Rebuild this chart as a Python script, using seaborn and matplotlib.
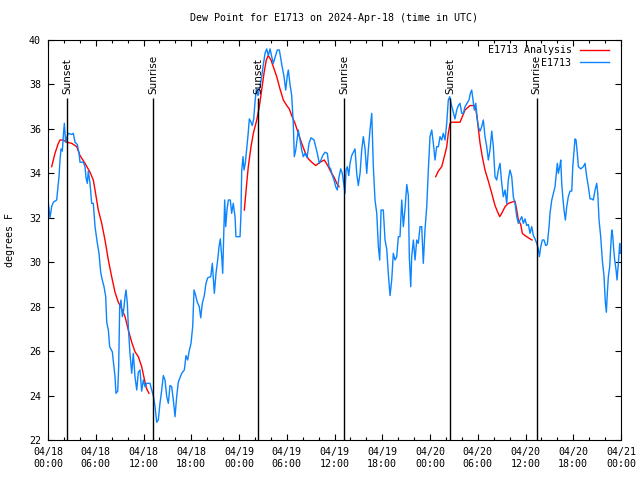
import matplotlib
matplotlib.use("Agg")
import matplotlib.pyplot as plt
import matplotlib.ticker as mticker
import numpy as np
import pandas as pd
import seaborn as sns

# ---------------- data ----------------
title = "Dew Point for E1713 on 2024-Apr-18 (time in UTC)"
ylabel = "degrees F"
station_label = "E1713"
analysis_label = "E1713 Analysis"

# hours since 04/18 00:00 UTC
obs_hours = [0.00, 0.25, 0.46, 0.67, 1.09, 1.22, 1.38, 1.51, 1.63, 1.80, 1.92, 2.05, 2.22, 2.39, 2.55, 2.98, 3.18, 3.39, 3.68, 3.90,
             4.02, 4.44, 4.65, 4.78, 4.94, 5.06, 5.28, 5.49, 5.69, 5.91, 6.20, 6.41, 6.62, 6.82, 7.04, 7.25, 7.38, 7.58, 7.75, 8.08,
             8.29, 8.42, 8.54, 8.76, 8.88, 9.01, 9.17, 9.34, 9.51, 9.68, 9.80, 9.97, 10.09, 10.30, 10.52, 10.72, 10.93, 11.15, 11.35, 11.56,
             11.77, 11.98, 12.19, 12.40, 12.82, 13.03, 13.23, 13.45, 13.66, 13.86, 14.07, 14.29, 14.49, 14.70, 14.92, 15.12, 15.33, 15.54, 15.75, 15.96,
             16.17, 16.37, 16.80, 17.13, 17.34, 17.55, 17.72, 17.97, 18.18, 18.35, 18.56, 18.76, 19.01, 19.19, 19.39, 19.64, 19.85, 20.07, 20.45, 20.65,
             20.90, 21.11, 21.32, 21.49, 21.65, 21.83, 21.95, 22.08, 22.20, 22.33, 22.49, 22.66, 22.91, 23.08, 23.28, 23.50, 23.62, 24.13, 24.25, 24.34,
             24.50, 24.63, 24.79, 24.97, 25.13, 25.30, 25.51, 25.67, 25.85, 26.01, 26.18, 26.39, 26.64, 26.85, 27.06, 27.27, 27.48, 27.68, 27.90, 28.11,
             28.31, 28.52, 28.81, 29.07, 29.37, 29.66, 29.87, 30.07, 30.20, 30.41, 30.62, 30.82, 30.95, 31.13, 31.29, 31.45, 31.67, 31.88, 32.08, 32.30,
             32.55, 32.80, 33.05, 33.43, 33.64, 33.84, 34.09, 34.31, 34.52, 34.81, 35.10, 35.31, 35.52, 35.73, 35.94, 36.15, 36.35, 36.57, 36.78, 36.98,
             37.16, 37.32, 37.45, 37.61, 37.79, 37.95, 38.16, 38.37, 38.58, 38.79, 38.99, 39.21, 39.42, 39.62, 39.84, 40.05, 40.25, 40.46, 40.68, 40.88,
             41.09, 41.31, 41.51, 41.68, 41.85, 42.13, 42.35, 42.56, 42.76, 42.98, 43.19, 43.39, 43.60, 43.82, 44.02, 44.23, 44.45, 44.65, 44.86, 45.08,
             45.28, 45.40, 45.58, 45.70, 45.91, 46.12, 46.33, 46.53, 46.75, 46.96, 47.16, 47.37, 47.59, 47.79, 48.00, 48.22, 48.42, 48.63, 48.84, 49.05,
             49.26, 49.47, 49.67, 49.89, 50.10, 50.30, 50.48, 50.64, 50.86, 51.14, 51.36, 51.56, 51.77, 51.99, 52.19, 52.40, 52.65, 52.90, 53.07, 53.24,
             53.41, 53.57, 53.75, 53.91, 54.07, 54.29, 54.50, 54.70, 54.91, 55.13, 55.33, 55.54, 55.76, 55.96, 56.17, 56.38, 56.59, 56.80, 57.01, 57.21,
             57.43, 57.64, 57.84, 58.05, 58.27, 58.47, 58.68, 58.90, 59.10, 59.31, 59.53, 59.73, 59.94, 60.15, 60.36, 60.57, 60.78, 60.99, 61.20, 61.41,
             61.61, 61.74, 61.92, 62.12, 62.33, 62.54, 62.74, 62.96, 63.08, 63.30, 63.50, 63.71, 63.84, 64.00, 64.13, 64.30, 64.43, 64.55, 64.68, 64.84,
             65.01, 65.18, 65.38, 65.60, 65.81, 65.94, 66.10, 66.22, 66.35, 66.51, 66.64, 66.94, 67.27, 67.48, 67.69, 67.90, 68.11, 68.32, 68.52, 68.74,
             68.95, 69.08, 69.24, 69.45, 69.65, 69.87, 70.03, 70.16, 70.28, 70.41, 70.58, 70.71, 70.84, 70.96, 71.09, 71.21, 71.38, 71.50, 71.67, 71.84,
             71.92]
obs_dewpt = [32.8, 32.0, 32.5, 32.7, 32.8, 33.25, 33.85, 34.6, 35.1, 35.0, 35.65, 36.25, 35.4, 35.65, 35.8, 35.75, 35.8, 35.4, 35.3, 34.9,
             34.5, 34.5, 34.3, 33.8, 33.55, 34.1, 33.55, 32.65, 32.65, 31.6, 30.85, 30.4, 29.55, 29.2, 28.9, 28.45, 27.3, 26.95, 26.2, 25.97,
             25.3, 24.85, 24.1, 24.2, 25.3, 28.0, 28.3, 27.55, 27.85, 28.45, 28.75, 28.15, 27.1, 25.9, 25.0, 25.9, 24.85, 24.25, 25.05, 25.15,
             24.2, 24.7, 24.4, 24.55, 24.55, 24.25, 24.0, 23.5, 22.8, 22.9, 23.65, 24.25, 24.9, 24.7, 23.95, 23.65, 24.45, 24.4, 23.8, 23.05,
             23.95, 24.6, 25.0, 25.15, 25.8, 25.6, 25.97, 26.35, 27.1, 28.75, 28.5, 28.2, 28.0, 27.5, 28.15, 28.5, 29.05, 29.3, 29.35, 29.95,
             28.6, 29.5, 30.1, 30.7, 31.05, 30.25, 29.5, 31.3, 32.8, 31.6, 32.35, 32.8, 32.8, 32.2, 32.65, 32.05, 31.15, 31.15, 32.2, 34.1,
             34.75, 34.15, 34.45, 35.1, 35.7, 36.45, 36.3, 36.15, 36.45, 37.2, 37.8, 37.5, 37.9, 38.35, 38.9, 39.4, 39.6, 39.3, 39.6, 39.25,
             38.95, 39.2, 39.55, 39.55, 38.9, 38.35, 37.75, 38.4, 38.65, 38.0, 37.5, 36.25, 34.75, 35.05, 35.5, 35.95, 35.5, 35.05, 34.75, 34.9,
             34.7, 35.35, 35.6, 35.5, 35.2, 34.9, 34.45, 34.6, 34.8, 34.95, 34.9, 34.3, 34.2, 33.9, 33.7, 33.4, 33.25, 33.85, 34.2, 34.0,
             33.55, 33.1, 34.15, 34.3, 33.9, 34.45, 34.8, 34.95, 35.1, 34.0, 33.45, 34.0, 35.05, 35.65, 35.1, 34.0, 35.05, 35.95, 36.7, 34.3,
             32.8, 32.2, 30.7, 30.1, 32.35, 32.35, 31.0, 30.6, 29.5, 28.5, 29.2, 30.4, 30.1, 30.25, 31.15, 31.15, 32.8, 31.6, 32.4, 33.5,
             33.0, 30.25, 28.9, 30.25, 31.0, 30.1, 31.0, 30.85, 31.6, 31.6, 29.95, 31.45, 32.5, 34.15, 35.65, 35.95, 35.35, 34.6, 35.2, 35.2,
             35.65, 35.5, 35.8, 35.5, 36.25, 37.3, 37.45, 37.15, 36.85, 36.45, 36.85, 37.05, 37.15, 36.7, 36.7, 37.0, 37.15, 37.3, 37.6, 37.75,
             37.3, 36.85, 37.15, 36.55, 36.1, 35.9, 36.1, 36.4, 35.65, 35.2, 34.6, 35.05, 35.9, 35.2, 33.85, 33.7, 34.15, 34.45, 33.55, 32.95,
             33.25, 32.65, 33.7, 34.15, 33.85, 32.95, 32.65, 32.05, 31.75, 31.9, 32.05, 31.75, 31.95, 31.65, 31.7, 31.3, 31.6, 31.2, 31.05, 30.85,
             30.6, 30.25, 30.7, 31.0, 31.0, 30.75, 30.8, 31.6, 32.2, 32.8, 33.1, 33.4, 33.85, 34.45, 34.0, 34.3, 34.6, 33.55, 32.95, 32.35,
             31.9, 32.5, 32.95, 33.2, 33.2, 34.3, 35.05, 35.55, 35.5, 34.9, 34.3, 34.2, 34.3, 34.45, 33.85, 33.4, 32.85, 32.85, 32.8, 33.25,
             33.55, 33.1, 31.9, 31.15, 30.1, 29.35, 28.2, 27.75, 28.6, 29.35, 29.8, 30.7, 31.45, 31.2, 30.55, 30.1, 29.65, 29.2, 29.95, 30.85,
             30.4]

# analysis curve: three separate pieces (segment id per point)
ana_hours = [0.46, 0.88, 1.29, 1.51, 1.92, 2.35, 2.98, 3.61, 4.02, 4.65, 5.28, 5.69, 5.91, 6.32, 6.75, 7.16, 7.58, 8.00, 8.42, 8.83,
             9.26, 9.68, 10.09, 10.52, 10.93, 11.35, 11.77, 12.19, 12.40, 12.69,
             24.67, 24.97, 25.17, 25.51, 25.80, 26.23, 26.55, 26.85, 27.14, 27.43, 27.68, 28.02, 28.31, 28.74, 29.15, 29.57, 30.00, 30.32, 30.62, 31.04,
             31.45, 31.88, 32.30, 32.71, 33.14, 33.64, 34.18, 34.72, 35.15, 35.56, 35.98, 36.28, 36.57,
             48.72, 49.05, 49.47, 49.80, 50.10, 50.30, 50.52, 50.73, 51.77, 52.06, 52.40, 53.03, 53.57, 53.78, 54.00, 54.29, 54.57, 54.91, 55.33, 55.76,
             56.17, 56.51, 56.76, 57.01, 57.43, 57.84, 58.27, 58.68, 58.90, 59.10, 59.40, 59.60, 59.94, 60.57, 60.82]
ana_dewpt = [34.3, 34.9, 35.35, 35.5, 35.5, 35.4, 35.35, 35.2, 34.8, 34.45, 34.05, 33.7, 33.25, 32.35, 31.75, 31.0, 30.1, 29.35, 28.65, 28.2,
             27.9, 27.55, 26.95, 26.4, 25.97, 25.75, 25.3, 24.6, 24.3, 24.1,
             32.35, 33.55, 34.3, 35.2, 35.8, 36.4, 37.0, 37.75, 38.5, 39.1, 39.3, 39.1, 38.8, 38.35, 37.8, 37.3, 37.05, 36.9, 36.6, 36.25,
             35.8, 35.35, 34.95, 34.65, 34.5, 34.35, 34.5, 34.6, 34.35, 34.05, 33.8, 33.55, 33.4,
             33.85, 34.1, 34.3, 34.75, 35.2, 35.8, 36.25, 36.3, 36.3, 36.55, 36.85, 37.05, 37.05, 36.85, 36.25, 35.35, 34.75, 34.15, 33.65, 33.1,
             32.55, 32.25, 32.05, 32.2, 32.5, 32.65, 32.7, 32.75, 32.35, 31.9, 31.7, 31.3, 31.2, 31.05, 31.0]
ana_segment = [1] * 30 + [2] * 33 + [3] * 35

sun_hours = [2.43, 13.23, 26.43, 37.23, 50.55, 61.41]
sun_labels = ["Sunset", "Sunrise", "Sunset", "Sunrise", "Sunset", "Sunrise"]

xtick_hours = [0, 6, 12, 18, 24, 30, 36, 42, 48, 54, 60, 66, 72]
xtick_labels = ["04/18\n00:00", "04/18\n06:00", "04/18\n12:00", "04/18\n18:00",
                "04/19\n00:00", "04/19\n06:00", "04/19\n12:00", "04/19\n18:00",
                "04/20\n00:00", "04/20\n06:00", "04/20\n12:00", "04/20\n18:00",
                "04/21\n00:00"]
ytick_values = [22, 24, 26, 28, 30, 32, 34, 36, 38, 40]

# ---------------- plot ----------------
plt.rcParams["font.family"] = ["DejaVu Sans Mono", "DejaVu Sans"]
plt.rcParams["font.size"] = 7

obs = pd.DataFrame({"hour": obs_hours, "dewpt": obs_dewpt})
ana = pd.DataFrame({"hour": ana_hours, "dewpt": ana_dewpt, "seg": ana_segment})

fig = plt.figure(figsize=(6.4, 4.8), dpi=100)
ax = fig.add_axes([48 / 640, 40 / 480, 573 / 640, 400 / 480])

RED = "#ff0000"
BLUE = "#0a84ff"

for i, (seg, sub) in enumerate(ana.groupby("seg")):
    sns.lineplot(data=sub, x="hour", y="dewpt", ax=ax, color=RED, lw=1.0,
                 label=analysis_label if i == 0 else None, legend=False, sort=False)
sns.lineplot(data=obs, x="hour", y="dewpt", ax=ax, color=BLUE, lw=1.0,
             label=station_label, legend=False, sort=False)

ax.vlines(sun_hours, 22, 37.4, color="black", lw=1.0)
for h, lab in zip(sun_hours, sun_labels):
    ax.text(h, 37.58, lab, rotation=90, ha="center", va="bottom",
            fontsize=7.5, family="DejaVu Sans")

ax.set_xlim(0, 72)
ax.set_ylim(22, 40)
ax.set_xticks(xtick_hours)
ax.set_xticklabels(xtick_labels)
ax.xaxis.set_minor_locator(mticker.MultipleLocator(2))
ax.set_yticks(ytick_values)
ax.tick_params(which="both", direction="in", top=True, right=True, width=0.8, labelsize=7.2)
ax.tick_params(which="major", length=4, pad=5)
ax.tick_params(which="minor", length=2)
for sp in ax.spines.values():
    sp.set_linewidth(0.8)

ax.set_xlabel("")
ax.set_ylabel(ylabel, fontsize=7.2)
ax.yaxis.set_label_coords(-0.058, 0.5)
ax.set_title(title, fontsize=7.2, pad=14)

handles, labels = ax.get_legend_handles_labels()
leg = ax.legend(handles, labels, loc="upper right", bbox_to_anchor=(1 - 7 / 573, 1.0),
                frameon=False, markerfirst=False,
                fontsize=7.2, handlelength=2.9, handletextpad=0.8, labelspacing=0.25,
                borderaxespad=0.25, borderpad=0.3)
for col in leg._legend_handle_box.get_children():
    col.align = "right"

fig.savefig("out.png", dpi=100)
